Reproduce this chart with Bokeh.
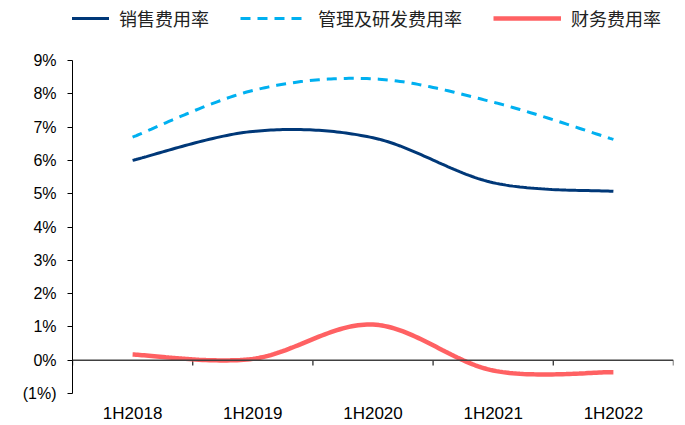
import numpy as np
from bokeh.plotting import figure
from bokeh.layouts import column
from bokeh.models import Range1d, FixedTicker, Span, Legend, LegendItem
from bokeh.embed import file_html
from bokeh.resources import INLINE

# ---- data ----
categories = ["1H2018", "1H2019", "1H2020", "1H2021", "1H2022"]
selling_rate = [6.00, 6.87, 6.68, 5.33, 5.07]      # 销售费用率 (%)
admin_rd_rate = [6.70, 8.10, 8.45, 7.75, 6.63]     # 管理及研发费用率 (%)
finance_rate = [0.17, 0.04, 1.07, -0.31, -0.36]    # 财务费用率 (%)
series_names = ["销售费用率", "管理及研发费用率", "财务费用率"]
y_ticks = [-1, 0, 1, 2, 3, 4, 5, 6, 7, 8, 9]
y_tick_labels = ["(1%)", "0%", "1%", "2%", "3%", "4%", "5%", "6%", "7%", "8%", "9%"]

styles = [dict(line_color="#003878", line_width=3),
          dict(line_color="#00B0F0", line_width=3, line_dash="10 7"),
          dict(line_color="#FF6163", line_width=4.5)]


def smooth(xs, ys, n=40):
    """Catmull-Rom (Excel-like smoothed line) through the given points."""
    xs = np.asarray(xs, float)
    ys = np.asarray(ys, float)
    px = np.concatenate([[xs[0]], xs, [xs[-1]]])
    py = np.concatenate([[ys[0]], ys, [ys[-1]]])
    ox, oy = [], []
    for i in range(1, len(xs)):
        p0, p1, p2, p3 = (np.array([px[j], py[j]]) for j in (i - 1, i, i + 1, i + 2))
        c1 = p1 + (p2 - p0) / 6.0
        c2 = p2 - (p3 - p1) / 6.0
        t = np.linspace(0, 1, n, endpoint=(i == len(xs) - 1))[:, None]
        pts = ((1 - t) ** 3) * p1 + 3 * ((1 - t) ** 2) * t * c1 + 3 * (1 - t) * t ** 2 * c2 + t ** 3 * p2
        ox.extend(pts[:, 0])
        oy.extend(pts[:, 1])
    return ox, oy


xpos = list(range(len(categories)))
bounds = [i - 0.5 for i in range(len(categories) + 1)]

# ---- legend strip (legend-only renderers sit outside its visible range) ----
top = figure(width=685, height=40, output_backend="svg", toolbar_location=None,
             x_range=Range1d(0, 1), y_range=Range1d(0, 1),
             x_axis_location=None, y_axis_location=None,
             min_border_left=0, min_border_right=0, min_border_top=0, min_border_bottom=0)
top.grid.visible = False
top.outline_line_color = None
leg_renderers = [top.line(x=[2, 3], y=[2, 2], **st) for st in styles]
legend = Legend(items=[LegendItem(label=n, renderers=[r]) for n, r in zip(series_names, leg_renderers)],
                orientation="horizontal", location=(-31, 9),
                label_text_font="Noto Sans CJK SC", label_text_font_size="18px",
                label_text_color="#222222",
                glyph_width=68, glyph_height=24, label_height=24, label_standoff=10, spacing=31,
                padding=0, margin=0, border_line_color=None, background_fill_alpha=0)
top.add_layout(legend, "center")

# ---- main chart ----
p = figure(width=685, height=385, output_backend="svg", toolbar_location=None,
           x_range=Range1d(-0.5, len(categories) - 0.5), y_range=Range1d(y_ticks[0], y_ticks[-1]),
           min_border_left=72, min_border_right=12, min_border_top=20, min_border_bottom=32)
p.outline_line_color = None
p.xgrid.visible = False
p.ygrid.visible = False
p.background_fill_color = "white"

# zero line with category boundary ticks
p.add_layout(Span(location=0, dimension="width", line_color="#404040", line_width=1.6))
p.segment(x0=bounds, y0=[0] * len(bounds), x1=bounds, y1=[-0.16] * len(bounds),
          line_color="#404040", line_width=1.4)

for ys, st in zip([selling_rate, admin_rd_rate, finance_rate], styles):
    lx, ly = smooth(xpos, ys)
    p.line(lx, ly, **st)

# axes
p.xaxis.ticker = FixedTicker(ticks=xpos)
p.xaxis.major_label_overrides = {i: c for i, c in enumerate(categories)}
p.xaxis.axis_line_color = None
p.xaxis.major_tick_line_color = None
p.xaxis.minor_tick_line_color = None
p.xaxis.major_tick_out = 0
p.xaxis.major_label_standoff = 10
p.xaxis.major_label_text_font = "Liberation Sans"
p.xaxis.major_label_text_font_size = "17px"
p.xaxis.major_label_text_color = "black"

p.yaxis.ticker = FixedTicker(ticks=y_ticks)
p.yaxis.major_label_overrides = {t: l for t, l in zip(y_ticks, y_tick_labels)}
p.yaxis.axis_line_color = "black"
p.yaxis.axis_line_width = 1
p.yaxis.major_tick_line_color = "black"
p.yaxis.major_tick_out = 5
p.yaxis.major_tick_in = 0
p.yaxis.minor_tick_line_color = None
p.yaxis.major_label_standoff = 11
p.yaxis.major_label_text_font = "Liberation Sans"
p.yaxis.major_label_text_font_size = "16px"
p.yaxis.major_label_text_color = "black"

layout = column(top, p, spacing=0)
open("out.html", "w").write(file_html(layout, INLINE))
